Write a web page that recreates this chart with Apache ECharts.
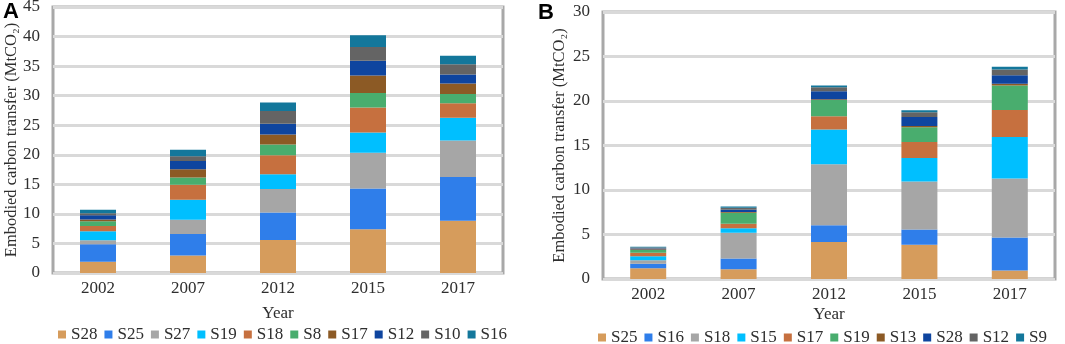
<!DOCTYPE html>
<html>
<head>
<meta charset="utf-8">
<script src="https://cdn.jsdelivr.net/npm/echarts@6/dist/echarts.min.js"></script>
<style>
    html, body { margin: 0; padding: 0; background: #fff; }
    #wrap { width: 1065px; height: 344px; position: relative; }
    #chartA { position: absolute; left: 0; top: 0; width: 532px; height: 344px; }
    #chartB { position: absolute; left: 532px; top: 0; width: 533px; height: 344px; }
</style>
</head>
<body>
<div id="wrap">
    <div id="chartA"></div>
    <div id="chartB"></div>
</div>
<script>
/* 年份 */
var years = ['2002', '2007', '2012', '2015', '2017']

/* 图A: 各部门 */
var namesA = ['S28', 'S25', 'S27', 'S19', 'S18', 'S8', 'S17', 'S12', 'S10', 'S16']
var valuesA = [
    [1.9, 2.95, 5.6, 7.4, 8.85],
    [2.95, 3.65, 4.65, 6.9, 7.4],
    [0.7, 2.4, 3.95, 6.05, 6.15],
    [1.5, 3.4, 2.5, 3.4, 3.85],
    [0.9, 2.55, 3.2, 4.25, 2.45],
    [0.8, 1.2, 1.85, 2.45, 1.6],
    [0.3, 1.4, 1.7, 2.95, 1.75],
    [0.7, 1.4, 1.8, 2.5, 1.55],
    [0.35, 0.8, 2.15, 2.35, 1.7],
    [0.6, 1.1, 1.45, 1.95, 1.45]
]

/* 图B: 各部门 */
var namesB = ['S25', 'S16', 'S18', 'S15', 'S17', 'S19', 'S13', 'S28', 'S12', 'S9']
var valuesB = [
    [1.2, 1.1, 4.15, 3.85, 0.95],
    [0.5, 1.2, 1.9, 1.7, 3.7],
    [0.4, 2.9, 6.85, 5.4, 6.65],
    [0.45, 0.5, 3.9, 2.65, 4.65],
    [0.4, 0.5, 1.5, 1.8, 3.05],
    [0.3, 1.25, 1.8, 1.65, 2.75],
    [0.08, 0.08, 0.1, 0.15, 0.2],
    [0.1, 0.25, 0.9, 1.0, 0.95],
    [0.12, 0.22, 0.45, 0.55, 0.65],
    [0.08, 0.15, 0.2, 0.2, 0.3]
]

var colors = ['#D69C5C', '#2F7EEA', '#A6A6A6', '#00BFFF', '#C6703F',
    '#49AD6E', '#8C5A25', '#0E459F', '#646464', '#13779B']

var serif = '"Liberation Serif", "Times New Roman", serif'
var textColor = '#2e2e2e'

function buildOption (panel, names, values, gridCfg, yMax, yNameGap, yearGap, legendLeft, legendTop) {
    var series = []
    for (var i = 0; i < names.length; i++) {
        series.push({
            name: names[i],
            type: 'bar',
            stack: 'total',
            barWidth: 36,
            data: values[i]
        })
    }
    return {
        animation: false,
        color: colors,
        graphic: [{
            type: 'text',
            left: panel === 'A' ? 3 : 6,
            top: panel === 'A' ? 1 : 2,
            style: {
                text: panel,
                font: 'bold 22px "Liberation Sans", Arial, sans-serif',
                fill: '#000'
            }
        }],
        legend: {
            data: names,
            left: legendLeft,
            top: legendTop,
            itemWidth: 8,
            itemHeight: 8,
            itemGap: 7,
            icon: 'rect',
            textStyle: {
                fontFamily: serif,
                fontSize: 17,
                color: textColor
            }
        },
        grid: gridCfg,
        xAxis: {
            type: 'category',
            data: years,
            name: 'Year',
            nameLocation: 'middle',
            nameGap: yearGap,
            nameMoveOverlap: false,
            nameTextStyle: {
                fontFamily: serif,
                fontSize: 17,
                color: textColor
            },
            axisLine: { show: false },
            axisTick: { show: false },
            axisLabel: {
                margin: 7,
                fontFamily: serif,
                fontSize: 17,
                color: textColor
            }
        },
        yAxis: {
            type: 'value',
            min: 0,
            max: yMax,
            interval: 5,
            name: 'Embodied carbon transfer (MtCO\u2082)',
            nameLocation: 'middle',
            nameGap: yNameGap,
            nameMoveOverlap: false,
            nameTextStyle: {
                fontFamily: serif,
                fontSize: 16.5,
                color: textColor
            },
            axisLine: { show: false },
            axisTick: { show: false },
            axisLabel: {
                margin: 13,
                fontFamily: serif,
                fontSize: 17,
                color: textColor
            },
            splitLine: {
                lineStyle: { color: '#D9D9D9', width: 3 }
            }
        },
        series: series
    }
}

var chartA = echarts.init(document.getElementById('chartA'))
chartA.setOption(buildOption('A', namesA, valuesA, {
    show: true,
    left: 53,
    top: 7,
    width: 450,
    height: 266,
    containLabel: false,
    outerBoundsMode: 'none',
    borderColor: '#A8A8A8',
    borderWidth: 3
}, 45, 33, 32, 53, 321))

var chartB = echarts.init(document.getElementById('chartB'))
chartB.setOption(buildOption('B', namesB, valuesB, {
    show: true,
    left: 71,
    top: 12,
    width: 452,
    height: 267,
    containLabel: false,
    outerBoundsMode: 'none',
    borderColor: '#A8A8A8',
    borderWidth: 3
}, 30, 35, 27, 61, 324))
</script>
</body>
</html>
